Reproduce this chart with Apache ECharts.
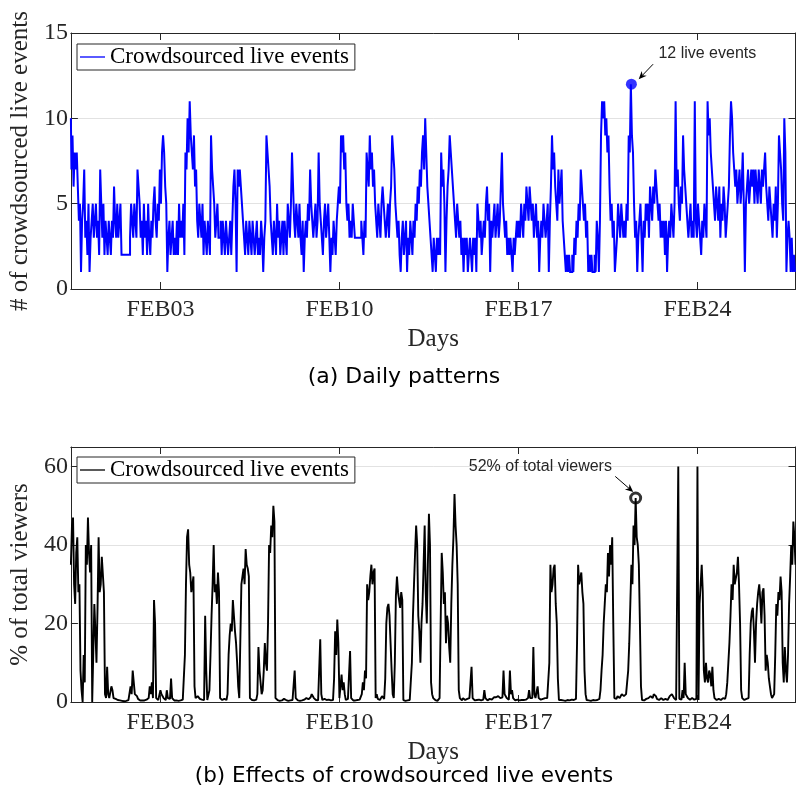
<!DOCTYPE html>
<html>
<head>
<meta charset="utf-8">
<script src="https://cdn.jsdelivr.net/npm/echarts@6/dist/echarts.min.js"></script>
<style>
  html, body { margin: 0; padding: 0; background: #fff; }
  #chart { width: 796px; height: 803px; }
</style>
</head>
<body>
<div id="chart"></div>
<script>
// ---- data -------------------------------------------------------------
// Time is measured in days, day 1 = FEB 01 00:00; one sample per hour.
const dayTicks = [3, 10, 17, 24];
const dayLabels = ['FEB03', 'FEB10', 'FEB17', 'FEB24'];
const firstSampleDay = -0.5;
const sampleStepHours = 1;
const dayRange = [-0.5, 27.834];

// number of crowdsourced live events running in each hour
const eventCounts = [
  10,7,9,6,8,7,8,6,4,5, 1,4,5,7,3,4,2,5,1,3,
  4,5,3,4,5,3,4,2,7,5, 3,5,2,4,3,2,4,3,2,4,
  3,6,4,3,5,3,4,5,2,2, 2,2,2,2,2,2,3,5,4,3,
  5,4,3,7,6,5,3,4,2,5, 3,4,2,5,3,2,4,3,5,6,
  4,3,5,4,7,5,8,9,8,6, 5,1,3,4,2,3,4,2,3,2,
  4,2,5,3,4,3,5,2,8,7, 10,8,11,9,8,7,9,6,7,4,
  3,5,4,3,5,2,4,3,2,4, 3,2,9,7,6,5,3,4,5,3,
  3,4,2,4,3,2,4,3,2,3, 4,2,4,6,7,5,1,7,6,7,
  6,5,4,3,2,4,3,2,4,3, 2,4,3,2,3,4,2,3,2,4,
  3,1,3,4,9,8,7,6,4,3, 2,4,3,2,5,3,4,2,3,4,
  2,4,3,2,5,4,3,5,8,6, 4,3,5,4,3,5,3,2,4,1,
  3,4,3,5,4,7,5,4,3,4, 5,3,4,8,5,4,3,2,4,5,
  3,4,5,3,1,3,2,4,3,2, 4,5,6,5,9,8,9,7,8,5,
  4,5,3,4,3,5,4,3,3,3, 3,3,3,4,3,2,4,3,8,7,
  6,9,7,8,6,7,5,4,3,5, 4,3,5,6,5,4,3,4,5,3,
  5,6,9,8,7,5,4,3,4,2, 1,3,4,2,3,4,1,3,2,4,
  3,2,4,3,5,4,6,5,7,6, 8,9,7,10,8,6,5,4,3,2,
  1,3,2,1,3,2,3,2,8,6, 7,5,1,4,6,7,9,8,7,6,
  5,4,3,5,4,3,4,2,3,1, 3,2,3,1,2,3,2,1,3,2,
  3,1,5,4,3,4,2,3,4,3, 5,6,4,5,1,4,3,4,5,3,
  4,5,3,4,6,8,5,4,3,4, 2,3,2,3,2,1,3,2,3,4,
  3,4,3,5,4,3,5,4,6,5, 4,6,5,4,5,3,4,5,3,4,
  1,3,4,3,5,4,3,4,5,1, 4,6,9,7,8,6,5,4,7,5,
  6,7,4,3,2,1,2,1,2,1, 1,2,1,3,2,4,3,5,4,7,
  6,5,4,5,3,4,1,2,1,2, 1,1,2,1,4,3,1,4,9,11,
  10,11,9,10,8,9,6,4,5,3, 4,1,2,3,5,4,3,5,4,3,
  4,3,5,4,9,8,12,9,8,5, 3,4,1,3,4,5,3,1,4,3,
  5,4,5,3,6,5,4,6,5,7, 6,5,4,5,3,4,3,4,2,4,
  1,3,4,3,5,4,3,5,11,6, 7,5,4,6,5,9,7,6,5,4,
  3,4,5,3,4,3,11,4,3,5, 4,3,2,4,3,5,4,3,11,9,
  10,8,7,6,5,4,6,5,4,6, 3,5,4,6,5,3,4,5,6,9,
  11,10,8,7,6,7,5,6,7,5, 6,8,5,1,5,6,7,5,6,7,
  6,7,5,7,6,5,7,6,5,7, 6,7,8,6,5,4,6,5,4,3,
  5,4,6,3,5,9,8,7,5,4, 10,8,1,3,4,3,1,3,1,2,
  1
];

// share of all viewers (%) watching crowdsourced live events, per hour
const viewerShare = [
  35,45,47,30,25,38,42,28,30,8, 3,0,12,5,40,35,47,38,33,40,
  0,0,25,18,10,24,42,28,30,37, 37,28,2,1,9,2,1,0.5,4,3,
  1,0.8,0.8,0.6,0.5,0.4,0.4,0.3,0.3,0.2, 0.2,0.3,0.3,0.4,0.5,1,4,2,8,5,
  2,1.5,1.5,0.8,0.5,0.4,0.3,0.4,0.5,0.4, 0.4,0.6,0.6,1,4,2,5,1,26,20,
  1,0.6,0.5,1,3,2,2,1,1,0.5, 3,1,0.5,0.8,6,1,0.5,0.4,0.3,0.4,
  0.4,0.3,0.3,0.4,0.5,0.6,0.8,12,30,42, 44,35,33,28,30,32,4,1,0.5,1.5,
  1.5,0.8,0.5,0.6,1,0.5,22,8,0.5,0.8, 3,12,22,30,40,28,30,25,33,28,
  1,0.8,0.5,0.6,0.8,0.5,0.5,2,12,17, 20,18,26,22,18,15,10,4,1,0.5,
  30,32,34,30,39,35,34,32,1,0.8, 0.5,0.4,0.4,0.5,0.6,2,14,8,5,2,
  3,8,15,10,8,20,40,38,45,42, 50,46,1,0.8,0.5,0.4,0.3,0.4,0.4,0.5,
  0.8,0.6,0.5,0.4,0.3,0.4,0.4,0.5,0.5,0.6, 8,1,0.5,0.4,0.4,0.3,0.3,0.4,0.5,0.6,
  0.8,1,0.5,0.7,0.7,1.2,2,1.5,1,0.6, 0.5,0.4,0.4,0.5,16,2,0.5,0.4,0.8,0.5,
  0.5,0.6,0.6,0.4,0.4,0.5,0.5,6,18,12, 21,15,1,0.8,7,3,5,2,0.5,0.6,
  0.8,1,13,1,0.5,0.4,0.3,0.4,0.4,0.5, 0.5,0.6,0.8,2,5,3,8,6,30,26,
  28,32,35,30,33,34,1,2,0.8,1, 0.5,0.8,1.5,1,0.8,6,20,24,25,22,
  15,8,2,1,10,27,32,28,26,24, 28,26,0.5,0.4,0.3,0.4,0.4,0.5,0.5,0.4,
  10,22,30,38,45,40,22,18,10,20, 25,35,45,28,20,35,48,40,5,2,
  1,0.5,0.5,0.4,0.3,0.5,1,20,38,33, 25,28,15,22,20,14,10,25,35,42,
  53,45,40,30,3,1,0.5,0.4,1,0.6, 0.5,0.4,0.8,1,1,0.5,9,1,0.5,0.4,
  0.4,0.5,0.8,0.6,0.5,0.4,0.5,0.6,3,1, 0.5,0.4,0.6,0.8,0.4,0.6,1,1.2,1.5,1.2,
  1.2,1.5,1.5,1,1,1.2,8,2,2,1, 0.5,0.6,8,2,3,1,0.5,0.4,0.8,0.6,
  0.5,0.4,0.4,0.5,0.6,0.5,0.5,0.6,0.8,1, 3,1,0.5,1,14,2,1,0.8,4,1,
  0.5,0.6,0.6,0.8,0.8,1,1.5,1,1,10, 35,28,30,34,35,25,20,6,0.5,0.6,
  0.5,0.4,0.4,0.3,0.3,0.4,0.5,0.6,0.4,0.5, 0.6,0.5,0.5,0.6,0.8,15,35,30,30,33,
  28,25,8,2,0.5,0.6,0.4,0.5,0.3,0.4, 0.5,0.4,0.4,0.6,0.5,0.8,0.8,3,8,12,
  20,25,30,28,38,32,40,35,42,20, 1,0.8,0.8,1.5,2,1,1.5,2,2,1.5,
  1,2,5,8,15,25,35,30,45,40, 52,42,40,35,20,4,0.5,0.4,0.4,0.6,
  0.8,1,1,1.5,1.5,1,1,2,2,1.5, 0.8,1,0.5,0.8,1,0.6,0.5,0.4,0.8,1,
  0.5,1,1.5,1,2,1.5,1,0.6,0.5,0.6, 60,0.8,1,0.6,3,1,10,2,2,1,
  0.5,0.6,0.8,1,1,0.6,0.5,0.8,60,0.5, 25,30,35,28,8,5,10,6,5,8,
  7,4,9,3,1,0.8,0.5,0.6,0.8,1, 0.5,0.6,1,0.8,0.8,2,5,10,15,22,
  30,26,35,30,30,33,37,30,20,3, 1,0.6,0.5,0.4,0.8,1,1,12,20,23,
  24,18,10,20,25,28,30,26,20,28, 29,22,8,12,10,6,4,2,1,0.8,
  2,12,25,22,28,26,32,28,10,5, 14,8,5,12,25,32,40,35,46,42,
  35
];

// highlighted hours
const eventsPeakIndex = 526;
const viewersPeakIndex = 530;

// ---- helpers ----------------------------------------------------------
const sampleDay = i => firstSampleDay + i * sampleStepHours / 24;
const toPoints = arr => arr.map((v, i) => [sampleDay(i), v]);

const SERIF = "'Liberation Serif', 'Times New Roman', serif";
const SANS = "'Liberation Sans', Arial, sans-serif";
const CAPTION = "'DejaVu Sans', sans-serif";
const AXIS = '#262626';
const GRIDLINE = '#e2e2e2';

function dayLabel(v) {
  const k = dayTicks.findIndex(d => Math.abs(d - v) < 1e-6);
  return k < 0 ? '' : dayLabels[k];
}

function xPair(gridIndex) {
  const line = { show: true, onZero: false, lineStyle: { color: AXIS, width: 1 } };
  const tick = { show: true, inside: true, length: 7, customValues: dayTicks, lineStyle: { color: AXIS } };
  return [
    {
      type: 'value', gridIndex, position: 'bottom', min: dayRange[0], max: dayRange[1],
      axisLine: line, axisTick: tick,
      axisLabel: { show: true, customValues: dayTicks, formatter: dayLabel,
                   fontFamily: SERIF, fontSize: 24, color: AXIS, margin: 9 },
      splitLine: { show: false },
      name: 'Days', nameLocation: 'middle', nameGap: 38,
      nameTextStyle: { fontFamily: SERIF, fontSize: 25, color: AXIS }
    },
    {
      type: 'value', gridIndex, position: 'top', min: dayRange[0], max: dayRange[1],
      axisLine: line, axisTick: tick, axisLabel: { show: false }, splitLine: { show: false }
    }
  ];
}

function yPair(gridIndex, max, interval, title) {
  const line = { show: true, onZero: false, lineStyle: { color: AXIS, width: 1 } };
  const tick = { show: true, inside: true, length: 7, lineStyle: { color: AXIS } };
  return [
    {
      type: 'value', gridIndex, position: 'left', min: 0, max, interval,
      axisLine: line, axisTick: tick,
      axisLabel: { fontFamily: SERIF, fontSize: 24, color: AXIS, margin: 3,
                   formatter: v => (v % interval === 0 ? String(v) : '') },
      splitLine: { show: true, lineStyle: { color: GRIDLINE, width: 1 } },
      name: title, nameLocation: 'middle', nameGap: 36,
      nameTextStyle: { fontFamily: SERIF, fontSize: 25, color: AXIS }
    },
    {
      type: 'value', gridIndex, position: 'right', min: 0, max, interval,
      axisLine: line, axisTick: tick, axisLabel: { show: false }, splitLine: { show: false }
    }
  ];
}

function legendBox(name, top) {
  return {
    data: [name], left: 77, top, orient: 'horizontal',
    icon: 'rect', itemWidth: 25, itemHeight: 1.3,
    padding: [1, 6, 1, 3],
    borderColor: AXIS, borderWidth: 1, backgroundColor: '#fff',
    formatter: () => 'Crowdsourced live events',
    textStyle: { fontFamily: SERIF, fontSize: 23, color: '#000', lineHeight: 24 },
    selectedMode: false
  };
}

const eventsPeak = [sampleDay(eventsPeakIndex), eventCounts[eventsPeakIndex]];
const viewersPeak = [sampleDay(viewersPeakIndex), viewerShare[viewersPeakIndex]];

const chart = echarts.init(document.getElementById('chart'), null, { renderer: 'canvas' });

chart.setOption({
  animation: false,
  backgroundColor: '#fff',
  grid: [
    { left: 66, top: 33, width: 729.5, height: 256, containLabel: false },
    { left: 66, top: 447, width: 729.5, height: 255, containLabel: false }
  ],
  xAxis: [...xPair(0), ...xPair(1)],
  yAxis: [...yPair(0, 15, 5, '# of crowdsourced live events'),
          ...yPair(1, 65, 20, '% of total viewers')],
  legend: [legendBox('events', 44), legendBox('viewers', 457)],
  series: [
    {
      name: 'events', type: 'line', xAxisIndex: 0, yAxisIndex: 0,
      data: toPoints(eventCounts), symbol: 'none', step: 'middle', silent: true,
      lineStyle: { color: '#0000ff', width: 2, join: 'miter' }, itemStyle: { color: '#0000ff' }
    },
    {
      name: 'eventsPeak', type: 'scatter', xAxisIndex: 0, yAxisIndex: 0,
      data: [eventsPeak], symbol: 'circle', symbolSize: 11, silent: true,
      itemStyle: { color: '#0000ff' }
    },
    {
      name: 'viewers', type: 'line', xAxisIndex: 2, yAxisIndex: 2,
      data: toPoints(viewerShare), symbol: 'none', silent: true,
      lineStyle: { color: '#000', width: 1.9 }, itemStyle: { color: '#000' }
    },
    {
      name: 'viewersPeak', type: 'scatter', xAxisIndex: 2, yAxisIndex: 2,
      data: [viewersPeak], symbol: 'circle', symbolSize: 10, silent: true,
      itemStyle: { color: '#fff', borderColor: '#000', borderWidth: 3 }
    }
  ]
});

// ---- captions and call-outs ---------------------------------------------
const notes = [
  { grid: 0, point: eventsPeak, text: eventsPeak[1] + ' live events',
    from: [21.7, -20], to: [7.3, -5], label: [27, -31], align: 'left' },
  { grid: 1, point: viewersPeak, text: viewersPeak[1] + '% of total viewers',
    from: [-20.4, -21.6], to: [-2.4, -6], label: [-23.7, -31], align: 'right' }
];

function arrow(from, to, color) {
  const dx = to[0] - from[0], dy = to[1] - from[1];
  const len = Math.hypot(dx, dy), ux = dx / len, uy = dy / len;
  const px = -uy, py = ux, L = 8, W = 3.5;
  const bx = to[0] - ux * L, by = to[1] - uy * L;
  const nx = to[0] - ux * L * 0.7, ny = to[1] - uy * L * 0.7;
  return [
    { type: 'line', z: 100, shape: { x1: from[0], y1: from[1], x2: nx, y2: ny },
      style: { stroke: color, lineWidth: 1 } },
    { type: 'polygon', z: 100,
      shape: { points: [to, [bx + px * W, by + py * W], [nx, ny], [bx - px * W, by - py * W]] },
      style: { fill: color } }
  ];
}

const graphics = [
  { type: 'text', z: 100, x: 404, y: 377,
    style: { text: '(a) Daily patterns', font: '22px ' + CAPTION, fill: '#000',
             align: 'center', verticalAlign: 'middle' } },
  { type: 'text', z: 100, x: 404, y: 776,
    style: { text: '(b) Effects of crowdsourced live events', font: '21.5px ' + CAPTION, fill: '#000',
             align: 'center', verticalAlign: 'middle' } }
];

notes.forEach(n => {
  const p = chart.convertToPixel({ gridIndex: n.grid }, n.point);
  const from = [p[0] + n.from[0], p[1] + n.from[1]];
  const to = [p[0] + n.to[0], p[1] + n.to[1]];
  graphics.push(...arrow(from, to, '#000'));
  graphics.push({ type: 'text', z: 100, x: p[0] + n.label[0], y: p[1] + n.label[1],
    style: { text: n.text, font: '16px ' + SANS, fill: '#262626',
             align: n.align, verticalAlign: 'middle' } });
});

chart.setOption({ graphic: graphics });
</script>
</body>
</html>
